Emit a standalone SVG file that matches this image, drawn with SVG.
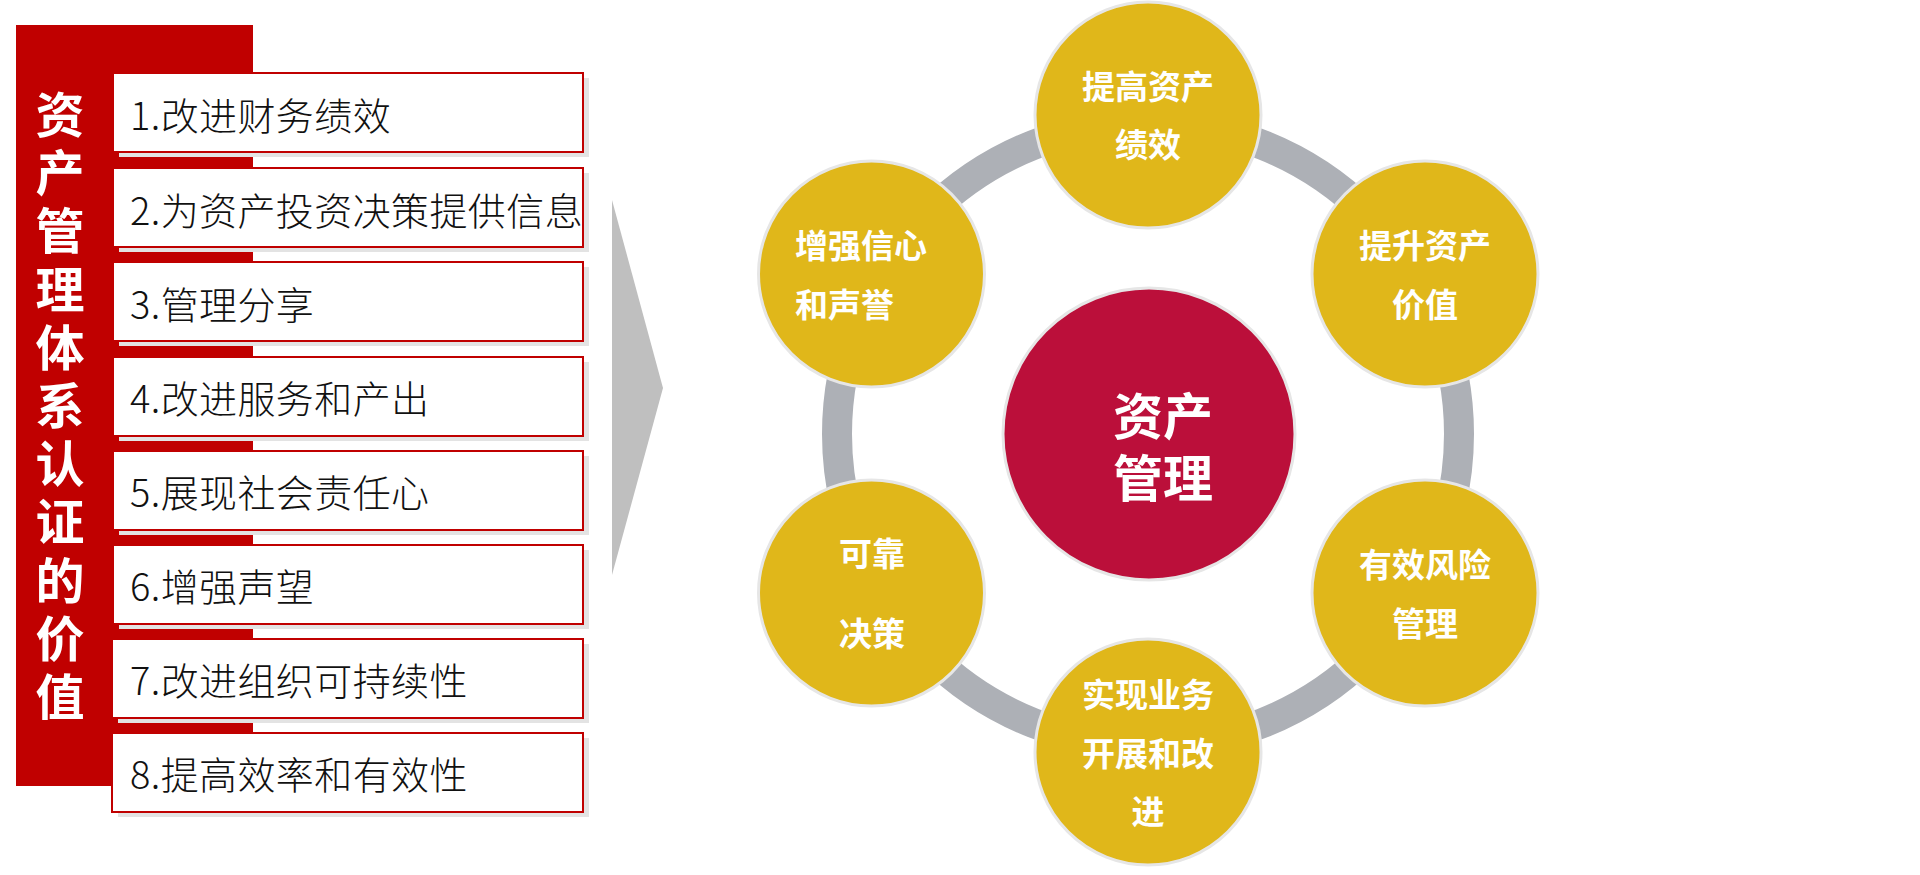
<svg xmlns="http://www.w3.org/2000/svg" width="1920" height="875" viewBox="0 0 1920 875">
<style>
.item{fill:#ffffff;stroke:#c00000;stroke-width:2}
.shadow{fill:#e3e3e3}
.itxt{font-family:"Noto Sans CJK SC","Noto Sans",sans-serif;font-size:38px;font-weight:300;fill:#111111;dominant-baseline:central;letter-spacing:0.4px}
.vtxt{font-family:"Noto Sans CJK SC",sans-serif;font-size:49px;font-weight:bold;fill:#ffffff;text-anchor:middle;dominant-baseline:central}
.node{fill:#e0b71a;stroke:#e6e6e6;stroke-width:3}
.hub{fill:#bb0f3a;stroke:#e6e6e6;stroke-width:3}
.ctxt{font-family:"Noto Sans CJK SC",sans-serif;font-size:33px;font-weight:bold;fill:#ffffff;text-anchor:middle;dominant-baseline:central}
.htxt{font-family:"Noto Sans CJK SC",sans-serif;font-size:50px;font-weight:bold;fill:#ffffff;text-anchor:middle;dominant-baseline:central}
</style>
<rect width="1920" height="875" fill="#ffffff"/>
<g id="title-column">
<rect x="16" y="25" width="237" height="761" fill="#c00000"/>
<text class="vtxt" x="60" y="111">资</text>
<text class="vtxt" x="60" y="169">产</text>
<text class="vtxt" x="60" y="227">管</text>
<text class="vtxt" x="60" y="286">理</text>
<text class="vtxt" x="60" y="344">体</text>
<text class="vtxt" x="60" y="402">系</text>
<text class="vtxt" x="60" y="460">认</text>
<text class="vtxt" x="60" y="518">证</text>
<text class="vtxt" x="60" y="577">的</text>
<text class="vtxt" x="60" y="635">价</text>
<text class="vtxt" x="60" y="693">值</text>
</g>
<g id="item1"><rect class="shadow" x="119" y="78" width="470" height="79"/><rect class="item" x="113" y="73" width="470" height="79"/><text class="itxt" x="130" y="113">1.改进财务绩效</text></g>
<g id="item2"><rect class="shadow" x="119" y="173" width="470" height="79"/><rect class="item" x="113" y="168" width="470" height="79"/><text class="itxt" x="130" y="208">2.为资产投资决策提供信息</text></g>
<g id="item3"><rect class="shadow" x="119" y="267" width="470" height="79"/><rect class="item" x="113" y="262" width="470" height="79"/><text class="itxt" x="130" y="302">3.管理分享</text></g>
<g id="item4"><rect class="shadow" x="119" y="362" width="470" height="79"/><rect class="item" x="113" y="357" width="470" height="79"/><text class="itxt" x="130" y="396">4.改进服务和产出</text></g>
<g id="item5"><rect class="shadow" x="119" y="456" width="470" height="79"/><rect class="item" x="113" y="451" width="470" height="79"/><text class="itxt" x="130" y="490">5.展现社会责任心</text></g>
<g id="item6"><rect class="shadow" x="119" y="550" width="470" height="79"/><rect class="item" x="113" y="545" width="470" height="79"/><text class="itxt" x="130" y="584">6.增强声望</text></g>
<g id="item7"><rect class="shadow" x="118" y="644" width="471" height="79"/><rect class="item" x="112" y="639" width="471" height="79"/><text class="itxt" x="130" y="678">7.改进组织可持续性</text></g>
<g id="item8"><rect class="shadow" x="118" y="738" width="471" height="79"/><rect class="item" x="112" y="733" width="471" height="79"/><text class="itxt" x="130" y="772">8.提高效率和有效性</text></g>
<g id="arrow"><polygon points="612,200 663,388 612,575" fill="#bfbfbf"/></g>
<g id="connectors"><circle cx="1148" cy="434" r="311" fill="none" stroke="#adb0b6" stroke-width="30"/></g>
<g id="hub"><circle class="hub" cx="1149" cy="434" r="146"/><text class="htxt" x="1163" y="413">资产</text><text class="htxt" x="1163" y="475">管理</text></g>
<g id="n-top"><circle class="node" cx="1148" cy="115" r="113"/><text class="ctxt" x="1148" y="85">提高资产</text><text class="ctxt" x="1148" y="143">绩效</text></g>
<g id="n-upper-right"><circle class="node" cx="1425" cy="274" r="113"/><text class="ctxt" x="1425" y="244">提升资产</text><text class="ctxt" x="1425" y="303">价值</text></g>
<g id="n-lower-right"><circle class="node" cx="1425" cy="593" r="113"/><text class="ctxt" x="1425" y="563">有效风险</text><text class="ctxt" x="1425" y="622">管理</text></g>
<g id="n-bottom"><circle class="node" cx="1148" cy="752" r="113"/><text class="ctxt" x="1148" y="693">实现业务</text><text class="ctxt" x="1148" y="752">开展和改</text><text class="ctxt" x="1148" y="810">进</text></g>
<g id="n-lower-left"><circle class="node" cx="871.5" cy="593" r="113"/><text class="ctxt" x="872" y="552">可靠</text><text class="ctxt" x="872" y="632">决策</text></g>
<g id="n-upper-left"><circle class="node" cx="871.5" cy="274" r="113"/><text class="ctxt" style="text-anchor:start" x="795" y="244">增强信心</text><text class="ctxt" style="text-anchor:start" x="795" y="303">和声誉</text></g>
</svg>
